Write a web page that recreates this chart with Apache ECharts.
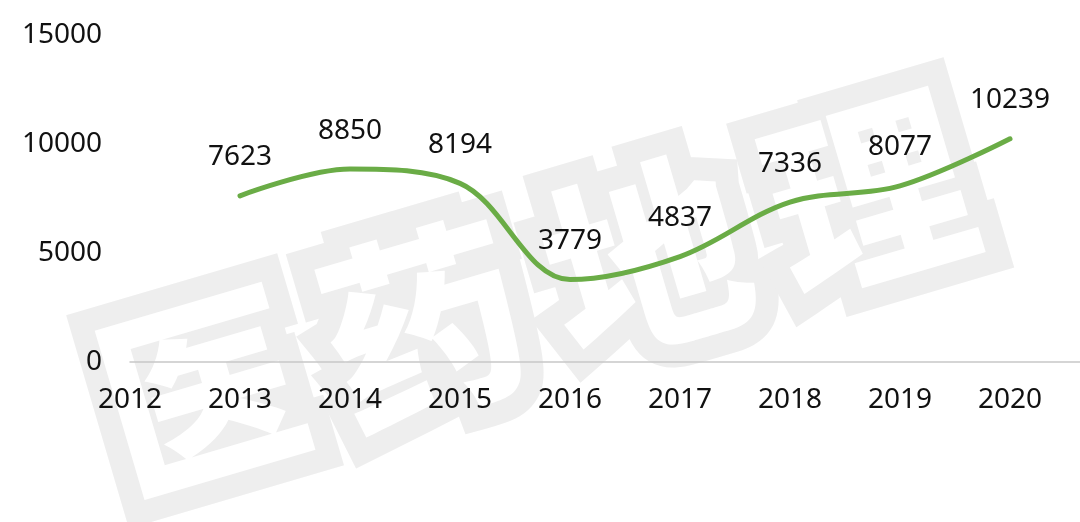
<!DOCTYPE html>
<html>
<head>
<meta charset="utf-8">
<script src="https://cdn.jsdelivr.net/npm/echarts@6/dist/echarts.min.js"></script>
<style>
html,body{margin:0;padding:0;background:#fff;}
#c{width:1080px;height:522px;}
</style>
</head>
<body>
<div id="c"></div>
<script>
var years = [2013, 2014, 2015, 2016, 2017, 2018, 2019, 2020];
var values = [7623, 8850, 8194, 3779, 4837, 7336, 8077, 10239];
var xTickStart = 2012;
var yTicks = [0, 5000, 10000, 15000];
var watermarkChars = ['医', '药', '地', '理'];

var chart = echarts.init(document.getElementById('c'), null, {renderer: 'canvas'});
var font = '"Noto Sans", "Open Sans", sans-serif';
var seriesData = years.map(function (y, i) { return [y, values[i]]; });

var wmChildren = watermarkChars.map(function (ch, i) {
  return {
    type: 'text',
    x: (i - 1.5) * 232,
    y: 0,
    style: {
      text: ch,
      font: '900 200px "Noto Sans CJK SC", sans-serif',
      fill: '#ffffff',
      stroke: '#eeeeee',
      lineWidth: 46,
      lineJoin: 'miter',
      strokeFirst: true,
      align: 'center',
      verticalAlign: 'middle'
    }
  };
});

chart.setOption({
  backgroundColor: '#ffffff',
  animation: false,
  graphic: [{
    type: 'group',
    x: 535,
    y: 292,
    rotation: 0.286,
    z: -10,
    silent: true,
    children: wmChildren
  }],
  grid: {left: 130, right: 0, top: 35, bottom: 160},
  xAxis: {
    type: 'value',
    min: xTickStart,
    max: xTickStart + 950 / 110,
    interval: 1,
    splitLine: {show: false},
    axisTick: {show: false},
    axisLine: {show: true, onZero: false, lineStyle: {color: '#c8c8c8', width: 1.5}},
    axisLabel: {
      color: '#111111',
      fontSize: 28,
      fontFamily: font,
      margin: 24,
      showMaxLabel: false,
      formatter: function (v) { return Number.isInteger(v) ? String(v) : ''; }
    }
  },
  yAxis: {
    type: 'value',
    min: yTicks[0],
    max: yTicks[yTicks.length - 1],
    interval: yTicks[1] - yTicks[0],
    splitLine: {show: false},
    axisLine: {show: false},
    axisTick: {show: false},
    axisLabel: {
      color: '#111111',
      fontSize: 28,
      fontFamily: font,
      margin: 28,
      formatter: function (v) { return String(v); }
    }
  },
  series: [{
    type: 'line',
    data: seriesData,
    smooth: 0.35,
    showSymbol: true,
    symbol: 'circle',
    symbolSize: 1,
    itemStyle: {color: 'rgba(0,0,0,0)'},
    lineStyle: {color: '#6aac46', width: 5, cap: 'round'},
    label: {
      show: true,
      position: 'top',
      distance: 24,
      color: '#111111',
      fontSize: 28,
      fontFamily: font,
      formatter: function (p) { return String(p.value[1]); }
    }
  }]
});
</script>
</body>
</html>
